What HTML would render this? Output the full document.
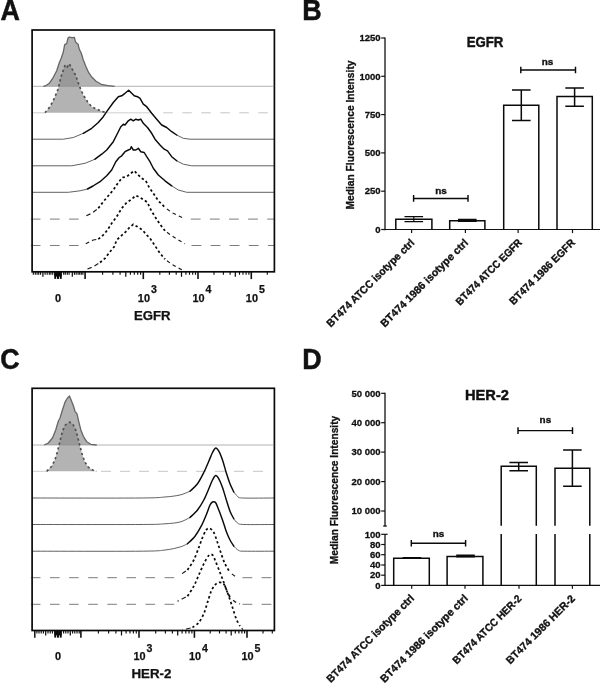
<!DOCTYPE html>
<html><head><meta charset="utf-8"><title>Figure</title>
<style>
html,body{margin:0;padding:0;background:#fff;}
svg{display:block;font-family:'Liberation Sans', sans-serif;}
</style></head><body>
<svg width="600" height="691" viewBox="0 0 600 691" style="filter:grayscale(1) blur(0.3px)">
<rect width="600" height="691" fill="#ffffff"/>
<text x="0.6" y="19.5" font-size="28.6" font-weight="bold" text-anchor="start" fill="#111" stroke="#111" stroke-width="0.50" textLength="19.4" lengthAdjust="spacingAndGlyphs" >A</text>
<text x="302.2" y="19.5" font-size="28.6" font-weight="bold" text-anchor="start" fill="#111" stroke="#111" stroke-width="0.50" textLength="19.4" lengthAdjust="spacingAndGlyphs" >B</text>
<text x="0.2" y="368.9" font-size="28.6" font-weight="bold" text-anchor="start" fill="#111" stroke="#111" stroke-width="0.50" textLength="19.4" lengthAdjust="spacingAndGlyphs" >C</text>
<text x="302.2" y="368.8" font-size="28.6" font-weight="bold" text-anchor="start" fill="#111" stroke="#111" stroke-width="0.50" textLength="19.4" lengthAdjust="spacingAndGlyphs" >D</text>
<line x1="32.1" y1="86.3" x2="272.9" y2="86.3" stroke="#a0a0a0" stroke-width="0.80" />
<line x1="32.1" y1="112.8" x2="45.0" y2="112.8" stroke="#c0c0c0" stroke-width="0.80" />
<line x1="163.3" y1="112.8" x2="272" y2="112.8" stroke="#c0c0c0" stroke-width="0.9" stroke-dasharray="9.5 9.5"/>
<line x1="107.0" y1="112.8" x2="152.0" y2="112.8" stroke="#c4c4c4" stroke-width="0.80" />
<path d="M43.3,86.3 L45.3,86.0 L49.3,83.3 L53.3,77.3 L56.7,70.7 L59.3,62.7 L61.3,58.0 L63.3,52.0 L64.7,44.7 L66.7,43.7 L68.0,38.0 L69.3,37.1 L72.0,37.6 L74.4,37.3 L75.3,41.3 L76.7,43.3 L78.0,44.0 L79.3,49.3 L81.3,53.3 L83.3,60.0 L86.0,66.7 L88.7,72.7 L92.0,77.3 L96.0,81.3 L101.3,84.3 L108.0,85.6 L114.7,86.3 Z" fill="#8c8c8c" fill-opacity="0.66" stroke="none"/>
<path d="M43.3,86.3 L45.3,86.0 L49.3,83.3 L53.3,77.3 L56.7,70.7 L59.3,62.7 L61.3,58.0 L63.3,52.0 L64.7,44.7 L66.7,43.7 L68.0,38.0 L69.3,37.1 L72.0,37.6 L74.4,37.3 L75.3,41.3 L76.7,43.3 L78.0,44.0 L79.3,49.3 L81.3,53.3 L83.3,60.0 L86.0,66.7 L88.7,72.7 L92.0,77.3 L96.0,81.3 L101.3,84.3 L108.0,85.6 L114.7,86.3" fill="none" stroke="#666" stroke-width="1.3" stroke-linejoin="round"/>
<path d="M45.0,112.7 L50.0,106.7 L54.0,99.0 L56.5,93.0 L58.0,89.3 L59.7,82.7 L60.7,77.3 L62.4,73.3 L64.0,68.0 L65.3,64.7 L67.3,66.9 L69.1,63.7 L71.3,67.3 L73.3,71.3 L75.3,74.7 L77.3,80.0 L78.9,84.7 L80.7,89.3 L83.3,95.0 L87.5,101.7 L91.7,106.7 L96.7,109.2 L101.7,111.3 L106.7,112.7 Z" fill="#8c8c8c" fill-opacity="0.66" stroke="none"/>
<path d="M45.0,112.7 L50.0,106.7 L54.0,99.0 L56.5,93.0 L58.0,89.3 L59.7,82.7 L60.7,77.3 L62.4,73.3 L64.0,68.0 L65.3,64.7 L67.3,66.9 L69.1,63.7 L71.3,67.3 L73.3,71.3 L75.3,74.7 L77.3,80.0 L78.9,84.7 L80.7,89.3 L83.3,95.0 L87.5,101.7 L91.7,106.7 L96.7,109.2 L101.7,111.3 L106.7,112.7" fill="none" stroke="#505050" stroke-width="1.7" stroke-dasharray="2.3 2.7"/>
<path d="M32.1,139.2 L63.3,139.2 L73.3,137.5 L83.3,133.3" fill="none" stroke="#444" stroke-width="0.85"/>
<path d="M176.7,135.0 L183.3,138.3 L190.0,139.2 L274.4,139.2" fill="none" stroke="#444" stroke-width="0.85"/>
<path d="M83.3,133.3 L91.7,128.3 L98.3,122.5 L103.3,116.7 L106.7,111.7 L113.3,102.5 L118.3,96.7 L121.7,95.8 L125.0,93.3 L128.7,90.3 L131.7,93.3 L134.2,95.8 L137.5,96.7 L140.0,98.3 L143.3,104.2 L146.7,106.7 L151.7,113.3 L156.7,119.2 L161.7,125.0 L166.7,127.5 L171.7,131.7 L176.7,135.0" fill="none" stroke="#0a0a0a" stroke-width="1.45" stroke-linejoin="round" stroke-linecap="round"/>
<path d="M32.1,165.8 L71.7,165.8 L85.0,163.3 L95.0,159.2" fill="none" stroke="#444" stroke-width="0.85"/>
<path d="M176.7,160.8 L183.3,164.2 L191.7,165.8 L274.4,165.8" fill="none" stroke="#444" stroke-width="0.85"/>
<path d="M95.0,159.2 L101.7,154.2 L106.7,150.0 L113.3,141.7 L116.7,135.0 L120.8,126.7 L123.3,124.2 L125.0,125.0 L128.3,120.8 L130.8,119.2 L133.3,120.8 L135.8,119.2 L138.3,120.0 L140.8,119.2 L143.3,123.3 L147.5,127.5 L151.7,133.3 L155.0,139.2 L160.0,145.0 L164.2,149.2 L167.5,150.8 L171.7,156.7 L176.7,160.8" fill="none" stroke="#0a0a0a" stroke-width="1.45" stroke-linejoin="round" stroke-linecap="round"/>
<path d="M32.1,192.3 L68.3,192.3 L80.0,190.8 L87.5,189.0" fill="none" stroke="#444" stroke-width="0.85"/>
<path d="M171.7,185.8 L178.3,190.0 L186.7,192.3 L274.4,192.3" fill="none" stroke="#444" stroke-width="0.85"/>
<path d="M87.5,189.0 L93.0,186.0 L100.0,181.7 L106.7,175.8 L111.7,170.0 L115.8,161.7 L119.2,157.5 L121.7,155.8 L125.0,151.7 L128.3,150.0 L130.3,149.2 L131.3,146.7 L133.3,150.0 L135.8,150.0 L138.3,148.3 L140.8,151.7 L144.2,152.5 L146.7,156.7 L150.0,161.7 L153.3,168.3 L158.3,175.0 L165.0,180.8 L171.7,185.8" fill="none" stroke="#0a0a0a" stroke-width="1.45" stroke-linejoin="round" stroke-linecap="round"/>
<line x1="30.9" y1="219.1" x2="79.0" y2="219.1" stroke="#7c7c7c" stroke-width="1" stroke-dasharray="9.6 9.5"/>
<line x1="190.8" y1="219.1" x2="274.4" y2="219.1" stroke="#7c7c7c" stroke-width="1" stroke-dasharray="9.8 9.3"/>
<path d="M98.3,208.3 L103.3,201.7 L108.3,195.8 L113.3,190.0 L118.3,182.5 L122.5,177.5 L126.7,176.7 L130.8,173.3 L134.2,170.8 L137.5,174.2 L141.7,178.3 L145.8,180.8 L149.2,187.5 L153.3,193.3 L158.3,200.8 L165.0,207.5" fill="none" stroke="#0a0a0a" stroke-width="1.75" stroke-dasharray="2.4 2.5"/>
<path d="M98.3,208.3 L91.7,213.3 L84.2,216.7" fill="none" stroke="#1a1a1a" stroke-width="1.15" stroke-dasharray="4.5 3.2" stroke-dashoffset="-2"/>
<path d="M165.0,207.5 L171.7,212.5 L178.3,215.8 L183.3,218.0" fill="none" stroke="#1a1a1a" stroke-width="1.15" stroke-dasharray="3.6 3.3" stroke-dashoffset="-2.5"/>
<line x1="30.9" y1="245.5" x2="79.0" y2="245.5" stroke="#7c7c7c" stroke-width="1" stroke-dasharray="9.6 9.5"/>
<line x1="191.5" y1="245.5" x2="274.4" y2="245.5" stroke="#7c7c7c" stroke-width="1" stroke-dasharray="9.8 9.3"/>
<path d="M98.3,239.2 L103.3,235.0 L107.5,230.0 L111.7,223.3 L116.7,216.7 L121.7,208.3 L126.7,202.5 L131.7,199.2 L135.8,195.5 L140.0,197.5 L144.2,200.0 L147.5,202.5 L150.0,208.3 L155.0,216.7 L160.0,224.2 L165.0,230.8" fill="none" stroke="#0a0a0a" stroke-width="1.75" stroke-dasharray="2.4 2.5"/>
<path d="M98.3,239.2 L93.3,240.0 L85.8,243.7" fill="none" stroke="#1a1a1a" stroke-width="1.15" stroke-dasharray="4.5 3.2" stroke-dashoffset="-2"/>
<path d="M165.0,230.8 L171.7,235.8 L178.3,240.0 L185.0,243.7" fill="none" stroke="#1a1a1a" stroke-width="1.15" stroke-dasharray="3.6 3.3" stroke-dashoffset="-2.5"/>
<path d="M100.0,262.5 L105.0,258.3 L110.0,251.7 L114.2,246.7 L116.7,240.0 L120.8,236.2 L125.8,231.7 L129.5,227.5 L133.3,224.4 L137.5,226.7 L142.5,230.0 L146.7,235.0 L150.0,238.3 L155.0,245.8 L160.0,253.3 L165.0,259.2" fill="none" stroke="#0a0a0a" stroke-width="1.75" stroke-dasharray="2.4 2.5"/>
<path d="M100.0,262.5 L93.3,266.7 L85.0,270.0" fill="none" stroke="#1a1a1a" stroke-width="1.15" stroke-dasharray="4.5 3.2" stroke-dashoffset="-2"/>
<path d="M165.0,259.2 L171.7,264.2 L178.3,268.0 L182.5,270.0" fill="none" stroke="#1a1a1a" stroke-width="1.15" stroke-dasharray="3.6 3.3" stroke-dashoffset="-2.5"/>
<line x1="33.3" y1="271.8" x2="33.3" y2="274.8" stroke="#111" stroke-width="1.15" />
<line x1="35.3" y1="271.8" x2="35.3" y2="274.8" stroke="#111" stroke-width="1.15" />
<line x1="37.1" y1="271.8" x2="37.1" y2="274.8" stroke="#111" stroke-width="1.15" />
<line x1="38.7" y1="271.8" x2="38.7" y2="274.8" stroke="#111" stroke-width="1.15" />
<line x1="40.6" y1="271.8" x2="40.6" y2="274.8" stroke="#111" stroke-width="1.15" />
<line x1="45.1" y1="271.8" x2="45.1" y2="274.8" stroke="#111" stroke-width="1.15" />
<line x1="47.2" y1="271.8" x2="47.2" y2="274.8" stroke="#111" stroke-width="1.15" />
<line x1="49.3" y1="271.8" x2="49.3" y2="274.8" stroke="#111" stroke-width="1.15" />
<line x1="50.9" y1="271.8" x2="50.9" y2="274.8" stroke="#111" stroke-width="1.15" />
<line x1="52.7" y1="271.8" x2="52.7" y2="274.8" stroke="#111" stroke-width="1.15" />
<line x1="63.7" y1="271.8" x2="63.7" y2="274.8" stroke="#111" stroke-width="1.15" />
<line x1="65.3" y1="271.8" x2="65.3" y2="274.8" stroke="#111" stroke-width="1.15" />
<line x1="67.3" y1="271.8" x2="67.3" y2="274.8" stroke="#111" stroke-width="1.15" />
<line x1="69.1" y1="271.8" x2="69.1" y2="274.8" stroke="#111" stroke-width="1.15" />
<line x1="74.4" y1="271.8" x2="74.4" y2="274.8" stroke="#111" stroke-width="1.15" />
<line x1="76.2" y1="271.8" x2="76.2" y2="274.8" stroke="#111" stroke-width="1.15" />
<line x1="78.1" y1="271.8" x2="78.1" y2="274.8" stroke="#111" stroke-width="1.15" />
<line x1="79.7" y1="271.8" x2="79.7" y2="274.8" stroke="#111" stroke-width="1.15" />
<line x1="81.3" y1="271.8" x2="81.3" y2="274.8" stroke="#111" stroke-width="1.15" />
<line x1="82.9" y1="271.8" x2="82.9" y2="274.8" stroke="#111" stroke-width="1.15" />
<line x1="42.9" y1="271.8" x2="42.9" y2="276.8" stroke="#111" stroke-width="1.25" />
<line x1="72.3" y1="271.8" x2="72.3" y2="276.8" stroke="#111" stroke-width="1.25" />
<rect x="54.3" y="271.8" width="7.4" height="4.8" fill="#0a0a0a"/>
<rect x="54.3" y="271.8" width="1.7" height="7.1" fill="#0a0a0a"/>
<rect x="56.8" y="271.8" width="2.2" height="7.1" fill="#0a0a0a"/>
<rect x="59.8" y="271.8" width="1.9" height="7.1" fill="#0a0a0a"/>
<line x1="85.1" y1="271.8" x2="85.1" y2="279.1" stroke="#111" stroke-width="1.60" />
<line x1="102.6" y1="271.8" x2="102.6" y2="274.8" stroke="#111" stroke-width="1.15" />
<line x1="112.9" y1="271.8" x2="112.9" y2="274.8" stroke="#111" stroke-width="1.15" />
<line x1="120.1" y1="271.8" x2="120.1" y2="274.8" stroke="#111" stroke-width="1.15" />
<line x1="125.8" y1="271.8" x2="125.8" y2="276.8" stroke="#111" stroke-width="1.25" />
<line x1="130.4" y1="271.8" x2="130.4" y2="274.8" stroke="#111" stroke-width="1.15" />
<line x1="134.3" y1="271.8" x2="134.3" y2="274.8" stroke="#111" stroke-width="1.15" />
<line x1="137.7" y1="271.8" x2="137.7" y2="274.8" stroke="#111" stroke-width="1.15" />
<line x1="140.6" y1="271.8" x2="140.6" y2="274.8" stroke="#111" stroke-width="1.15" />
<line x1="143.3" y1="271.8" x2="143.3" y2="279.1" stroke="#111" stroke-width="1.60" />
<line x1="159.8" y1="271.8" x2="159.8" y2="274.8" stroke="#111" stroke-width="1.15" />
<line x1="169.4" y1="271.8" x2="169.4" y2="274.8" stroke="#111" stroke-width="1.15" />
<line x1="176.2" y1="271.8" x2="176.2" y2="274.8" stroke="#111" stroke-width="1.15" />
<line x1="181.5" y1="271.8" x2="181.5" y2="276.8" stroke="#111" stroke-width="1.25" />
<line x1="185.9" y1="271.8" x2="185.9" y2="274.8" stroke="#111" stroke-width="1.15" />
<line x1="189.5" y1="271.8" x2="189.5" y2="274.8" stroke="#111" stroke-width="1.15" />
<line x1="192.7" y1="271.8" x2="192.7" y2="274.8" stroke="#111" stroke-width="1.15" />
<line x1="195.5" y1="271.8" x2="195.5" y2="274.8" stroke="#111" stroke-width="1.15" />
<line x1="198.0" y1="271.8" x2="198.0" y2="279.1" stroke="#111" stroke-width="1.60" />
<line x1="214.0" y1="271.8" x2="214.0" y2="274.8" stroke="#111" stroke-width="1.15" />
<line x1="223.4" y1="271.8" x2="223.4" y2="274.8" stroke="#111" stroke-width="1.15" />
<line x1="230.1" y1="271.8" x2="230.1" y2="274.8" stroke="#111" stroke-width="1.15" />
<line x1="235.3" y1="271.8" x2="235.3" y2="276.8" stroke="#111" stroke-width="1.25" />
<line x1="239.5" y1="271.8" x2="239.5" y2="274.8" stroke="#111" stroke-width="1.15" />
<line x1="243.0" y1="271.8" x2="243.0" y2="274.8" stroke="#111" stroke-width="1.15" />
<line x1="246.1" y1="271.8" x2="246.1" y2="274.8" stroke="#111" stroke-width="1.15" />
<line x1="248.9" y1="271.8" x2="248.9" y2="274.8" stroke="#111" stroke-width="1.15" />
<line x1="251.3" y1="271.8" x2="251.3" y2="279.1" stroke="#111" stroke-width="1.60" />
<line x1="267.3" y1="271.8" x2="267.3" y2="274.8" stroke="#111" stroke-width="1.15" />
<rect x="32.1" y="30.0" width="242.3" height="241.8" fill="none" stroke="#0a0a0a" stroke-width="1.7"/>
<text x="58.0" y="301.8" font-size="10.9" font-weight="bold" text-anchor="middle" fill="#111" stroke="#111" stroke-width="0.25" >0</text>
<text x="143.9" y="301.8" font-size="10.9" font-weight="bold" text-anchor="middle" fill="#111" stroke="#111" stroke-width="0.25" >10</text>
<text x="150.9" y="293.1" font-size="10.6" font-weight="bold" text-anchor="start" fill="#111" stroke="#111" stroke-width="0.25" >3</text>
<text x="198.6" y="301.8" font-size="10.9" font-weight="bold" text-anchor="middle" fill="#111" stroke="#111" stroke-width="0.25" >10</text>
<text x="205.6" y="293.1" font-size="10.6" font-weight="bold" text-anchor="start" fill="#111" stroke="#111" stroke-width="0.25" >4</text>
<text x="251.9" y="301.8" font-size="10.9" font-weight="bold" text-anchor="middle" fill="#111" stroke="#111" stroke-width="0.25" >10</text>
<text x="258.9" y="293.1" font-size="10.6" font-weight="bold" text-anchor="start" fill="#111" stroke="#111" stroke-width="0.25" >5</text>
<text x="152.2" y="319.6" font-size="12.0" font-weight="bold" text-anchor="middle" fill="#111" stroke="#111" stroke-width="0.25" textLength="36.6" lengthAdjust="spacingAndGlyphs" >EGFR</text>
<line x1="32.1" y1="445.0" x2="272.9" y2="445.0" stroke="#a0a0a0" stroke-width="0.80" />
<line x1="32.1" y1="471.3" x2="47.0" y2="471.3" stroke="#c0c0c0" stroke-width="0.80" />
<line x1="101" y1="471.3" x2="272" y2="471.3" stroke="#c0c0c0" stroke-width="0.9" stroke-dasharray="10 9"/>
<path d="M44.2,445.0 L48.3,443.0 L52.5,438.0 L55.8,429.7 L58.3,421.3 L60.0,418.0 L62.5,409.7 L65.0,402.2 L67.5,398.0 L69.5,396.0 L71.3,400.5 L73.3,405.5 L75.0,411.3 L77.0,413.8 L78.7,421.3 L80.8,429.7 L83.3,436.3 L86.7,441.7 L90.8,444.3 L96.7,445.0 Z" fill="#8c8c8c" fill-opacity="0.66" stroke="none"/>
<path d="M44.2,445.0 L48.3,443.0 L52.5,438.0 L55.8,429.7 L58.3,421.3 L60.0,418.0 L62.5,409.7 L65.0,402.2 L67.5,398.0 L69.5,396.0 L71.3,400.5 L73.3,405.5 L75.0,411.3 L77.0,413.8 L78.7,421.3 L80.8,429.7 L83.3,436.3 L86.7,441.7 L90.8,444.3 L96.7,445.0" fill="none" stroke="#666" stroke-width="1.3" stroke-linejoin="round"/>
<path d="M46.7,471.3 L51.7,466.3 L55.0,459.7 L57.5,451.3 L60.0,441.3 L62.5,431.3 L65.0,425.5 L67.5,423.0 L70.0,422.2 L72.5,423.8 L75.0,428.0 L77.5,436.3 L80.0,446.3 L82.5,455.5 L85.0,462.2 L88.3,467.2 L92.5,470.0 L96.7,471.3 Z" fill="#8c8c8c" fill-opacity="0.66" stroke="none"/>
<path d="M46.7,471.3 L51.7,466.3 L55.0,459.7 L57.5,451.3 L60.0,441.3 L62.5,431.3 L65.0,425.5 L67.5,423.0 L70.0,422.2 L72.5,423.8 L75.0,428.0 L77.5,436.3 L80.0,446.3 L82.5,455.5 L85.0,462.2 L88.3,467.2 L92.5,470.0 L96.7,471.3" fill="none" stroke="#505050" stroke-width="1.7" stroke-dasharray="2.3 2.7"/>
<path d="M32.1,498.0 C49.4,498.0 118.7,498.2 140.0,498.0 C161.3,497.8 158.6,497.5 165.0,497.0 C171.4,496.5 176.0,495.9 180.0,495.0 C184.0,494.1 188.4,491.8 190.0,491.2" fill="none" stroke="#444" stroke-width="0.85"/>
<path d="M233.8,492.0 C234.4,492.7 236.1,495.2 237.5,496.2 C238.9,497.2 236.6,497.7 242.5,498.0 C248.4,498.3 269.3,498.0 274.4,498.0" fill="none" stroke="#444" stroke-width="0.85"/>
<path d="M190.0,491.2 C191.2,490.0 195.3,486.8 197.5,483.8 C199.7,480.8 202.0,476.1 203.8,472.5 C205.6,468.9 207.4,464.4 208.8,461.2 C210.2,458.0 211.4,454.6 212.5,452.5 C213.6,450.4 214.8,448.2 215.8,448.0 C216.8,447.8 217.7,449.3 218.8,451.2 C219.9,453.1 221.3,456.6 222.5,460.0 C223.7,463.4 225.0,468.7 226.2,472.5 C227.4,476.3 228.8,480.7 230.0,483.8 C231.2,486.9 233.2,490.7 233.8,492.0" fill="none" stroke="#0a0a0a" stroke-width="1.45" stroke-linejoin="round" stroke-linecap="round"/>
<path d="M32.1,524.5 C49.4,524.5 118.7,524.6 140.0,524.5 C161.3,524.4 158.6,524.2 165.0,523.8 C171.4,523.4 176.0,523.0 180.0,522.0 C184.0,521.0 188.4,518.2 190.0,517.5" fill="none" stroke="#444" stroke-width="0.85"/>
<path d="M233.8,518.8 C234.4,519.5 235.9,522.1 237.5,523.0 C239.1,523.9 237.9,524.3 243.8,524.5 C249.7,524.7 269.5,524.5 274.4,524.5" fill="none" stroke="#444" stroke-width="0.85"/>
<path d="M190.0,517.5 C191.2,516.3 195.3,512.8 197.5,510.0 C199.7,507.2 202.0,503.4 203.8,500.0 C205.6,496.6 207.4,492.0 208.8,488.8 C210.2,485.6 211.4,482.1 212.5,480.0 C213.6,477.9 214.8,475.7 215.8,475.5 C216.8,475.3 217.7,476.9 218.8,478.8 C219.9,480.7 221.3,484.2 222.5,487.5 C223.7,490.8 225.0,495.7 226.2,499.5 C227.4,503.3 228.8,508.1 230.0,511.2 C231.2,514.3 233.2,517.6 233.8,518.8" fill="none" stroke="#0a0a0a" stroke-width="1.45" stroke-linejoin="round" stroke-linecap="round"/>
<path d="M32.1,551.2 C49.4,551.2 118.7,551.4 140.0,551.2 C161.3,551.0 158.6,550.7 165.0,550.0 C171.4,549.3 176.4,548.0 180.0,547.0 C183.6,546.0 186.3,544.3 187.5,543.8" fill="none" stroke="#444" stroke-width="0.85"/>
<path d="M233.8,546.2 C234.6,546.9 237.0,549.7 238.8,550.5 C240.6,551.3 239.3,551.1 245.0,551.2 C250.7,551.3 269.7,551.2 274.4,551.2" fill="none" stroke="#444" stroke-width="0.85"/>
<path d="M187.5,543.8 C188.7,542.6 192.8,539.0 195.0,536.2 C197.2,533.4 199.4,529.6 201.2,526.2 C203.0,522.8 204.8,518.4 206.2,515.0 C207.6,511.6 209.0,507.1 210.0,505.0 C211.0,502.9 211.6,502.4 212.5,502.0 C213.4,501.6 214.5,501.2 215.5,502.5 C216.5,503.8 217.7,507.2 218.8,510.0 C219.9,512.8 221.3,516.6 222.5,520.0 C223.7,523.4 225.0,528.0 226.2,531.2 C227.4,534.4 228.8,537.6 230.0,540.0 C231.2,542.4 233.2,545.2 233.8,546.2" fill="none" stroke="#0a0a0a" stroke-width="1.45" stroke-linejoin="round" stroke-linecap="round"/>
<line x1="30.9" y1="577.7" x2="176.0" y2="577.7" stroke="#7c7c7c" stroke-width="1" stroke-dasharray="9.6 9.5"/>
<line x1="242.5" y1="577.7" x2="274.4" y2="577.7" stroke="#7c7c7c" stroke-width="1" stroke-dasharray="9.8 9.3"/>
<path d="M187.5,570.0 C188.5,568.4 192.0,563.6 193.8,560.0 C195.6,556.4 197.4,551.1 198.8,547.5 C200.2,543.9 201.3,540.3 202.5,537.5 C203.7,534.7 205.1,531.5 206.2,530.0 C207.3,528.5 208.3,527.8 209.5,528.2 C210.7,528.6 212.5,530.2 213.8,532.5 C215.1,534.8 216.3,539.1 217.5,542.5 C218.7,545.9 220.0,550.4 221.2,553.8 C222.4,557.2 223.6,560.8 225.0,563.8 C226.4,566.8 229.2,571.1 230.0,572.5" fill="none" stroke="#0a0a0a" stroke-width="1.75" stroke-dasharray="2.4 2.5"/>
<path d="M187.5,570.0 C186.3,570.8 181.2,574.2 180.0,575.0" fill="none" stroke="#1a1a1a" stroke-width="1.15" stroke-dasharray="4.5 3.2" stroke-dashoffset="-2"/>
<path d="M230.0,572.5 C230.8,573.1 234.2,575.6 235.0,576.2" fill="none" stroke="#1a1a1a" stroke-width="1.15" stroke-dasharray="3.6 3.3" stroke-dashoffset="-2.5"/>
<line x1="30.9" y1="604.3" x2="176.0" y2="604.3" stroke="#7c7c7c" stroke-width="1" stroke-dasharray="9.6 9.5"/>
<line x1="242.5" y1="604.3" x2="274.4" y2="604.3" stroke="#7c7c7c" stroke-width="1" stroke-dasharray="9.8 9.3"/>
<path d="M187.5,596.2 C188.5,594.6 192.0,589.6 193.8,586.2 C195.6,582.8 197.2,578.6 198.8,575.0 C200.4,571.4 202.2,566.9 203.8,563.8 C205.4,560.7 207.4,556.9 208.8,555.5 C210.2,554.1 211.4,554.1 212.5,555.0 C213.6,555.9 214.3,558.4 215.5,561.2 C216.7,564.0 218.7,569.1 220.0,572.5 C221.3,575.9 222.6,579.3 223.8,582.5 C225.0,585.7 226.3,589.9 227.5,592.5 C228.7,595.1 230.6,597.8 231.2,598.8" fill="none" stroke="#0a0a0a" stroke-width="1.75" stroke-dasharray="2.4 2.5"/>
<path d="M187.5,596.2 C185.9,597.0 179.1,600.4 177.5,601.2" fill="none" stroke="#1a1a1a" stroke-width="1.15" stroke-dasharray="4.5 3.2" stroke-dashoffset="-2"/>
<path d="M231.2,598.8 C232.0,599.4 234.8,601.7 236.2,602.5 C237.6,603.3 239.4,603.8 240.0,604.0" fill="none" stroke="#1a1a1a" stroke-width="1.15" stroke-dasharray="3.6 3.3" stroke-dashoffset="-2.5"/>
<path d="M192.5,627.5 C193.5,626.7 197.0,624.7 198.8,622.5 C200.6,620.3 202.4,617.0 203.8,613.8 C205.2,610.6 206.3,606.1 207.5,602.5 C208.7,598.9 210.0,594.0 211.2,591.2 C212.4,588.4 213.8,586.4 215.0,585.0 C216.2,583.6 217.6,582.8 218.8,582.5 C220.0,582.2 221.5,582.4 222.5,583.0 C223.5,583.6 224.0,584.1 225.0,586.2 C226.0,588.3 227.6,592.8 228.8,596.2 C230.0,599.6 231.3,603.9 232.5,607.5 C233.7,611.1 235.0,615.8 236.2,618.8 C237.4,621.8 239.4,625.0 240.0,626.2" fill="none" stroke="#0a0a0a" stroke-width="1.75" stroke-dasharray="2.4 2.5"/>
<path d="M192.5,627.5 C190.9,627.9 184.1,629.6 182.5,630.0" fill="none" stroke="#1a1a1a" stroke-width="1.15" stroke-dasharray="4.5 3.2" stroke-dashoffset="-2"/>
<path d="M240.0,626.2 C240.5,626.7 242.5,629.0 243.0,629.5" fill="none" stroke="#1a1a1a" stroke-width="1.15" stroke-dasharray="3.6 3.3" stroke-dashoffset="-2.5"/>
<line x1="36.9" y1="630.5" x2="36.9" y2="633.5" stroke="#111" stroke-width="1.15" />
<line x1="39.0" y1="630.5" x2="39.0" y2="633.5" stroke="#111" stroke-width="1.15" />
<line x1="41.2" y1="630.5" x2="41.2" y2="633.5" stroke="#111" stroke-width="1.15" />
<line x1="43.4" y1="630.5" x2="43.4" y2="633.5" stroke="#111" stroke-width="1.15" />
<line x1="48.0" y1="630.5" x2="48.0" y2="633.5" stroke="#111" stroke-width="1.15" />
<line x1="50.2" y1="630.5" x2="50.2" y2="633.5" stroke="#111" stroke-width="1.15" />
<line x1="52.4" y1="630.5" x2="52.4" y2="633.5" stroke="#111" stroke-width="1.15" />
<line x1="63.6" y1="630.5" x2="63.6" y2="633.5" stroke="#111" stroke-width="1.15" />
<line x1="65.8" y1="630.5" x2="65.8" y2="633.5" stroke="#111" stroke-width="1.15" />
<line x1="68.0" y1="630.5" x2="68.0" y2="633.5" stroke="#111" stroke-width="1.15" />
<line x1="72.6" y1="630.5" x2="72.6" y2="633.5" stroke="#111" stroke-width="1.15" />
<line x1="74.8" y1="630.5" x2="74.8" y2="633.5" stroke="#111" stroke-width="1.15" />
<line x1="77.0" y1="630.5" x2="77.0" y2="633.5" stroke="#111" stroke-width="1.15" />
<line x1="79.2" y1="630.5" x2="79.2" y2="633.5" stroke="#111" stroke-width="1.15" />
<line x1="45.7" y1="630.5" x2="45.7" y2="635.5" stroke="#111" stroke-width="1.25" />
<line x1="70.3" y1="630.5" x2="70.3" y2="635.5" stroke="#111" stroke-width="1.25" />
<line x1="34.8" y1="630.5" x2="34.8" y2="637.8" stroke="#111" stroke-width="1.50" />
<rect x="54.3" y="630.5" width="7.4" height="4.8" fill="#0a0a0a"/>
<rect x="54.3" y="630.5" width="1.7" height="7.1" fill="#0a0a0a"/>
<rect x="56.8" y="630.5" width="2.2" height="7.1" fill="#0a0a0a"/>
<rect x="59.8" y="630.5" width="1.9" height="7.1" fill="#0a0a0a"/>
<line x1="80.9" y1="630.5" x2="80.9" y2="637.8" stroke="#111" stroke-width="1.60" />
<line x1="98.4" y1="630.5" x2="98.4" y2="633.5" stroke="#111" stroke-width="1.15" />
<line x1="108.6" y1="630.5" x2="108.6" y2="633.5" stroke="#111" stroke-width="1.15" />
<line x1="115.9" y1="630.5" x2="115.9" y2="633.5" stroke="#111" stroke-width="1.15" />
<line x1="121.5" y1="630.5" x2="121.5" y2="635.5" stroke="#111" stroke-width="1.25" />
<line x1="126.1" y1="630.5" x2="126.1" y2="633.5" stroke="#111" stroke-width="1.15" />
<line x1="130.0" y1="630.5" x2="130.0" y2="633.5" stroke="#111" stroke-width="1.15" />
<line x1="133.4" y1="630.5" x2="133.4" y2="633.5" stroke="#111" stroke-width="1.15" />
<line x1="136.3" y1="630.5" x2="136.3" y2="633.5" stroke="#111" stroke-width="1.15" />
<line x1="139.0" y1="630.5" x2="139.0" y2="637.8" stroke="#111" stroke-width="1.60" />
<line x1="155.7" y1="630.5" x2="155.7" y2="633.5" stroke="#111" stroke-width="1.15" />
<line x1="165.4" y1="630.5" x2="165.4" y2="633.5" stroke="#111" stroke-width="1.15" />
<line x1="172.4" y1="630.5" x2="172.4" y2="633.5" stroke="#111" stroke-width="1.15" />
<line x1="177.7" y1="630.5" x2="177.7" y2="635.5" stroke="#111" stroke-width="1.25" />
<line x1="182.1" y1="630.5" x2="182.1" y2="633.5" stroke="#111" stroke-width="1.15" />
<line x1="185.8" y1="630.5" x2="185.8" y2="633.5" stroke="#111" stroke-width="1.15" />
<line x1="189.0" y1="630.5" x2="189.0" y2="633.5" stroke="#111" stroke-width="1.15" />
<line x1="191.9" y1="630.5" x2="191.9" y2="633.5" stroke="#111" stroke-width="1.15" />
<line x1="194.4" y1="630.5" x2="194.4" y2="637.8" stroke="#111" stroke-width="1.60" />
<line x1="210.2" y1="630.5" x2="210.2" y2="633.5" stroke="#111" stroke-width="1.15" />
<line x1="219.5" y1="630.5" x2="219.5" y2="633.5" stroke="#111" stroke-width="1.15" />
<line x1="226.1" y1="630.5" x2="226.1" y2="633.5" stroke="#111" stroke-width="1.15" />
<line x1="231.2" y1="630.5" x2="231.2" y2="635.5" stroke="#111" stroke-width="1.25" />
<line x1="235.3" y1="630.5" x2="235.3" y2="633.5" stroke="#111" stroke-width="1.15" />
<line x1="238.9" y1="630.5" x2="238.9" y2="633.5" stroke="#111" stroke-width="1.15" />
<line x1="241.9" y1="630.5" x2="241.9" y2="633.5" stroke="#111" stroke-width="1.15" />
<line x1="244.6" y1="630.5" x2="244.6" y2="633.5" stroke="#111" stroke-width="1.15" />
<line x1="247.0" y1="630.5" x2="247.0" y2="637.8" stroke="#111" stroke-width="1.60" />
<line x1="263.0" y1="630.5" x2="263.0" y2="633.5" stroke="#111" stroke-width="1.15" />
<line x1="272.3" y1="630.5" x2="272.3" y2="633.5" stroke="#111" stroke-width="1.15" />
<rect x="32.1" y="388.3" width="242.3" height="242.2" fill="none" stroke="#0a0a0a" stroke-width="1.7"/>
<text x="58.0" y="660.3" font-size="10.9" font-weight="bold" text-anchor="middle" fill="#111" stroke="#111" stroke-width="0.25" >0</text>
<text x="139.6" y="660.3" font-size="10.9" font-weight="bold" text-anchor="middle" fill="#111" stroke="#111" stroke-width="0.25" >10</text>
<text x="146.6" y="651.6" font-size="10.6" font-weight="bold" text-anchor="start" fill="#111" stroke="#111" stroke-width="0.25" >3</text>
<text x="195.0" y="660.3" font-size="10.9" font-weight="bold" text-anchor="middle" fill="#111" stroke="#111" stroke-width="0.25" >10</text>
<text x="202.0" y="651.6" font-size="10.6" font-weight="bold" text-anchor="start" fill="#111" stroke="#111" stroke-width="0.25" >4</text>
<text x="247.6" y="660.3" font-size="10.9" font-weight="bold" text-anchor="middle" fill="#111" stroke="#111" stroke-width="0.25" >10</text>
<text x="254.6" y="651.6" font-size="10.6" font-weight="bold" text-anchor="start" fill="#111" stroke="#111" stroke-width="0.25" >5</text>
<text x="151.4" y="678.4" font-size="12.0" font-weight="bold" text-anchor="middle" fill="#111" stroke="#111" stroke-width="0.25" textLength="40.0" lengthAdjust="spacingAndGlyphs" >HER-2</text>
<line x1="385.0" y1="37.4" x2="385.0" y2="230.2" stroke="#111" stroke-width="1.30" />
<line x1="384.4" y1="229.5" x2="600.0" y2="229.5" stroke="#111" stroke-width="1.20" />
<line x1="381.2" y1="229.5" x2="385.0" y2="229.5" stroke="#111" stroke-width="1.20" />
<text x="380.6" y="232.8" font-size="9.9" font-weight="bold" text-anchor="end" fill="#111" stroke="#111" stroke-width="0.30" textLength="5.3" lengthAdjust="spacingAndGlyphs" >0</text>
<line x1="381.2" y1="191.2" x2="385.0" y2="191.2" stroke="#111" stroke-width="1.20" />
<text x="380.6" y="194.4" font-size="9.9" font-weight="bold" text-anchor="end" fill="#111" stroke="#111" stroke-width="0.30" textLength="15.9" lengthAdjust="spacingAndGlyphs" >250</text>
<line x1="381.2" y1="152.9" x2="385.0" y2="152.9" stroke="#111" stroke-width="1.20" />
<text x="380.6" y="156.2" font-size="9.9" font-weight="bold" text-anchor="end" fill="#111" stroke="#111" stroke-width="0.30" textLength="15.9" lengthAdjust="spacingAndGlyphs" >500</text>
<line x1="381.2" y1="114.6" x2="385.0" y2="114.6" stroke="#111" stroke-width="1.20" />
<text x="380.6" y="117.9" font-size="9.9" font-weight="bold" text-anchor="end" fill="#111" stroke="#111" stroke-width="0.30" textLength="15.9" lengthAdjust="spacingAndGlyphs" >750</text>
<line x1="381.2" y1="76.3" x2="385.0" y2="76.3" stroke="#111" stroke-width="1.20" />
<text x="380.6" y="79.6" font-size="9.9" font-weight="bold" text-anchor="end" fill="#111" stroke="#111" stroke-width="0.30" textLength="21.2" lengthAdjust="spacingAndGlyphs" >1000</text>
<line x1="381.2" y1="38.0" x2="385.0" y2="38.0" stroke="#111" stroke-width="1.20" />
<text x="380.6" y="41.2" font-size="9.9" font-weight="bold" text-anchor="end" fill="#111" stroke="#111" stroke-width="0.30" textLength="21.2" lengthAdjust="spacingAndGlyphs" >1250</text>
<text x="354.0" y="135.0" font-size="10.2" font-weight="bold" text-anchor="middle" fill="#111" stroke="#111" stroke-width="0.30" textLength="149.0" lengthAdjust="spacingAndGlyphs" transform="rotate(-90 354.0 135.0)" >Median Fluorescence Intensity</text>
<text x="485.0" y="46.7" font-size="14.9" font-weight="bold" text-anchor="middle" fill="#111" stroke="#111" stroke-width="0.45" textLength="36.7" lengthAdjust="spacingAndGlyphs" >EGFR</text>
<path d="M395.8,229.5 L395.8,219.3 L431.9,219.3 L431.9,229.5" fill="none" stroke="#0a0a0a" stroke-width="1.50"/>
<path d="M449.7,229.5 L449.7,220.7 L484.9,220.7 L484.9,229.5" fill="none" stroke="#0a0a0a" stroke-width="1.50"/>
<path d="M503.7,229.5 L503.7,105.2 L538.8,105.2 L538.8,229.5" fill="none" stroke="#0a0a0a" stroke-width="1.50"/>
<path d="M557.0,229.5 L557.0,96.5 L592.3,96.5 L592.3,229.5" fill="none" stroke="#0a0a0a" stroke-width="1.50"/>
<path d="M413.8,216.6 L413.8,221.6 M404.5,216.6 L423.1,216.6 M404.5,221.6 L423.1,221.6" fill="none" stroke="#0a0a0a" stroke-width="1.15"/>
<path d="M467.3,219.6 L467.3,221.3 M458.0,219.6 L476.6,219.6 M458.0,221.3 L476.6,221.3" fill="none" stroke="#0a0a0a" stroke-width="1.50"/>
<path d="M521.3,90.0 L521.3,120.5 M512.0,90.0 L530.6,90.0 M512.0,120.5 L530.6,120.5" fill="none" stroke="#0a0a0a" stroke-width="1.50"/>
<path d="M574.6,88.0 L574.6,106.3 M565.3,88.0 L583.9,88.0 M565.3,106.3 L583.9,106.3" fill="none" stroke="#0a0a0a" stroke-width="1.50"/>
<path d="M413.6,198.4 L468.0,198.4 M413.6,195.1 L413.6,201.7 M468.0,195.1 L468.0,201.7" fill="none" stroke="#0a0a0a" stroke-width="1.45"/>
<path d="M520.8,70.0 L575.5,70.0 M520.8,66.7 L520.8,73.3 M575.5,66.7 L575.5,73.3" fill="none" stroke="#0a0a0a" stroke-width="1.45"/>
<text x="441.0" y="194.4" font-size="9.9" font-weight="bold" text-anchor="middle" fill="#111" stroke="#111" stroke-width="0.35" textLength="11.6" lengthAdjust="spacingAndGlyphs" >ns</text>
<text x="547.5" y="65.0" font-size="9.9" font-weight="bold" text-anchor="middle" fill="#111" stroke="#111" stroke-width="0.35" textLength="11.6" lengthAdjust="spacingAndGlyphs" >ns</text>
<line x1="411.6" y1="229.5" x2="411.6" y2="233.1" stroke="#111" stroke-width="1.20" />
<line x1="465.4" y1="229.5" x2="465.4" y2="233.1" stroke="#111" stroke-width="1.20" />
<line x1="518.1" y1="229.5" x2="518.1" y2="233.1" stroke="#111" stroke-width="1.20" />
<line x1="572.5" y1="229.5" x2="572.5" y2="233.1" stroke="#111" stroke-width="1.20" />
<text x="415.0" y="243.5" font-size="10.6" font-weight="bold" text-anchor="end" fill="#111" stroke="#111" stroke-width="0.35" textLength="119.0" lengthAdjust="spacingAndGlyphs" transform="rotate(-45 415.0 243.5)" >BT474 ATCC isotype ctrl</text>
<text x="468.8" y="243.5" font-size="10.6" font-weight="bold" text-anchor="end" fill="#111" stroke="#111" stroke-width="0.35" textLength="119.0" lengthAdjust="spacingAndGlyphs" transform="rotate(-45 468.8 243.5)" >BT474 1986 isotype ctrl</text>
<text x="522.6" y="243.3" font-size="10.6" font-weight="bold" text-anchor="end" fill="#111" stroke="#111" stroke-width="0.35" textLength="88.5" lengthAdjust="spacingAndGlyphs" transform="rotate(-45 522.6 243.3)" >BT474 ATCC EGFR</text>
<text x="575.8" y="243.3" font-size="10.6" font-weight="bold" text-anchor="end" fill="#111" stroke="#111" stroke-width="0.35" textLength="88.0" lengthAdjust="spacingAndGlyphs" transform="rotate(-45 575.8 243.3)" >BT474 1986 EGFR</text>
<line x1="385.0" y1="392.7" x2="385.0" y2="526.3" stroke="#111" stroke-width="1.30" />
<line x1="383.2" y1="526.0" x2="386.8" y2="526.0" stroke="#111" stroke-width="1.30" />
<line x1="385.0" y1="534.3" x2="387.6" y2="534.3" stroke="#111" stroke-width="1.20" />
<line x1="385.0" y1="534.3" x2="385.0" y2="586.0" stroke="#111" stroke-width="1.30" />
<line x1="384.4" y1="585.4" x2="600.0" y2="585.4" stroke="#111" stroke-width="1.20" />
<line x1="381.2" y1="511.0" x2="385.0" y2="511.0" stroke="#111" stroke-width="1.20" />
<text x="380.6" y="514.2" font-size="9.9" font-weight="bold" text-anchor="end" fill="#111" stroke="#111" stroke-width="0.30" textLength="29.2" lengthAdjust="spacingAndGlyphs" >10 000</text>
<line x1="381.2" y1="481.6" x2="385.0" y2="481.6" stroke="#111" stroke-width="1.20" />
<text x="380.6" y="484.8" font-size="9.9" font-weight="bold" text-anchor="end" fill="#111" stroke="#111" stroke-width="0.30" textLength="29.2" lengthAdjust="spacingAndGlyphs" >20 000</text>
<line x1="381.2" y1="452.1" x2="385.0" y2="452.1" stroke="#111" stroke-width="1.20" />
<text x="380.6" y="455.4" font-size="9.9" font-weight="bold" text-anchor="end" fill="#111" stroke="#111" stroke-width="0.30" textLength="29.2" lengthAdjust="spacingAndGlyphs" >30 000</text>
<line x1="381.2" y1="422.7" x2="385.0" y2="422.7" stroke="#111" stroke-width="1.20" />
<text x="380.6" y="426.0" font-size="9.9" font-weight="bold" text-anchor="end" fill="#111" stroke="#111" stroke-width="0.30" textLength="29.2" lengthAdjust="spacingAndGlyphs" >40 000</text>
<line x1="381.2" y1="393.3" x2="385.0" y2="393.3" stroke="#111" stroke-width="1.20" />
<text x="380.6" y="396.5" font-size="9.9" font-weight="bold" text-anchor="end" fill="#111" stroke="#111" stroke-width="0.30" textLength="29.2" lengthAdjust="spacingAndGlyphs" >50 000</text>
<line x1="381.2" y1="585.4" x2="385.0" y2="585.4" stroke="#111" stroke-width="1.20" />
<text x="380.6" y="588.6" font-size="9.9" font-weight="bold" text-anchor="end" fill="#111" stroke="#111" stroke-width="0.30" textLength="5.3" lengthAdjust="spacingAndGlyphs" >0</text>
<line x1="381.2" y1="575.2" x2="385.0" y2="575.2" stroke="#111" stroke-width="1.20" />
<text x="380.6" y="578.4" font-size="9.9" font-weight="bold" text-anchor="end" fill="#111" stroke="#111" stroke-width="0.30" textLength="10.6" lengthAdjust="spacingAndGlyphs" >20</text>
<line x1="381.2" y1="565.0" x2="385.0" y2="565.0" stroke="#111" stroke-width="1.20" />
<text x="380.6" y="568.2" font-size="9.9" font-weight="bold" text-anchor="end" fill="#111" stroke="#111" stroke-width="0.30" textLength="10.6" lengthAdjust="spacingAndGlyphs" >40</text>
<line x1="381.2" y1="554.7" x2="385.0" y2="554.7" stroke="#111" stroke-width="1.20" />
<text x="380.6" y="558.0" font-size="9.9" font-weight="bold" text-anchor="end" fill="#111" stroke="#111" stroke-width="0.30" textLength="10.6" lengthAdjust="spacingAndGlyphs" >60</text>
<line x1="381.2" y1="544.5" x2="385.0" y2="544.5" stroke="#111" stroke-width="1.20" />
<text x="380.6" y="547.8" font-size="9.9" font-weight="bold" text-anchor="end" fill="#111" stroke="#111" stroke-width="0.30" textLength="10.6" lengthAdjust="spacingAndGlyphs" >80</text>
<line x1="381.2" y1="534.3" x2="385.0" y2="534.3" stroke="#111" stroke-width="1.20" />
<text x="380.6" y="537.5" font-size="9.9" font-weight="bold" text-anchor="end" fill="#111" stroke="#111" stroke-width="0.30" textLength="15.9" lengthAdjust="spacingAndGlyphs" >100</text>
<text x="337.8" y="490.0" font-size="10.2" font-weight="bold" text-anchor="middle" fill="#111" stroke="#111" stroke-width="0.30" textLength="148.5" lengthAdjust="spacingAndGlyphs" transform="rotate(-90 337.8 490.0)" >Median Fluorescence Intensity</text>
<text x="487.0" y="400.4" font-size="14.9" font-weight="bold" text-anchor="middle" fill="#111" stroke="#111" stroke-width="0.45" textLength="44.0" lengthAdjust="spacingAndGlyphs" >HER-2</text>
<path d="M393.7,585.4 L393.7,558.2 L429.3,558.2 L429.3,585.4" fill="none" stroke="#0a0a0a" stroke-width="1.50"/>
<path d="M447.1,585.4 L447.1,556.6 L482.9,556.6 L482.9,585.4" fill="none" stroke="#0a0a0a" stroke-width="1.50"/>
<path d="M501.2,525.8 L501.2,466.2 L536.3,466.2 L536.3,525.8 M501.2,533.9 L501.2,585.4 M536.3,533.9 L536.3,585.4" fill="none" stroke="#0a0a0a" stroke-width="1.50"/>
<path d="M555.0,525.8 L555.0,468.3 L589.8,468.3 L589.8,525.8 M555.0,533.9 L555.0,585.4 M589.8,533.9 L589.8,585.4" fill="none" stroke="#0a0a0a" stroke-width="1.50"/>
<path d="M411.9,557.5 L411.9,558.2 M402.6,557.5 L421.2,557.5 M402.6,558.2 L421.2,558.2" fill="none" stroke="#0a0a0a" stroke-width="1.20"/>
<path d="M465.5,555.2 L465.5,556.8 M456.2,555.2 L474.8,555.2 M456.2,556.8 L474.8,556.8" fill="none" stroke="#0a0a0a" stroke-width="1.50"/>
<path d="M518.7,462.5 L518.7,470.8 M509.4,462.5 L528.0,462.5 M509.4,470.8 L528.0,470.8" fill="none" stroke="#0a0a0a" stroke-width="1.50"/>
<path d="M572.4,450.0 L572.4,486.3 M563.1,450.0 L581.7,450.0 M563.1,486.3 L581.7,486.3" fill="none" stroke="#0a0a0a" stroke-width="1.50"/>
<path d="M411.3,543.2 L465.6,543.2 M411.3,539.9 L411.3,546.5 M465.6,539.9 L465.6,546.5" fill="none" stroke="#0a0a0a" stroke-width="1.45"/>
<path d="M518.0,430.6 L572.5,430.6 M518.0,427.3 L518.0,433.9 M572.5,427.3 L572.5,433.9" fill="none" stroke="#0a0a0a" stroke-width="1.45"/>
<text x="438.5" y="537.0" font-size="9.9" font-weight="bold" text-anchor="middle" fill="#111" stroke="#111" stroke-width="0.35" textLength="11.6" lengthAdjust="spacingAndGlyphs" >ns</text>
<text x="545.4" y="423.3" font-size="9.9" font-weight="bold" text-anchor="middle" fill="#111" stroke="#111" stroke-width="0.35" textLength="11.6" lengthAdjust="spacingAndGlyphs" >ns</text>
<line x1="411.7" y1="585.4" x2="411.7" y2="588.8" stroke="#111" stroke-width="1.20" />
<line x1="465.0" y1="585.4" x2="465.0" y2="588.8" stroke="#111" stroke-width="1.20" />
<line x1="519.0" y1="585.4" x2="519.0" y2="588.8" stroke="#111" stroke-width="1.20" />
<line x1="572.4" y1="585.4" x2="572.4" y2="588.8" stroke="#111" stroke-width="1.20" />
<text x="414.8" y="599.0" font-size="10.6" font-weight="bold" text-anchor="end" fill="#111" stroke="#111" stroke-width="0.35" textLength="119.0" lengthAdjust="spacingAndGlyphs" transform="rotate(-45 414.8 599.0)" >BT474 ATCC isotype ctrl</text>
<text x="468.6" y="599.0" font-size="10.6" font-weight="bold" text-anchor="end" fill="#111" stroke="#111" stroke-width="0.35" textLength="119.0" lengthAdjust="spacingAndGlyphs" transform="rotate(-45 468.6 599.0)" >BT474 1986 isotype ctrl</text>
<text x="522.2" y="599.3" font-size="10.6" font-weight="bold" text-anchor="end" fill="#111" stroke="#111" stroke-width="0.35" textLength="92.5" lengthAdjust="spacingAndGlyphs" transform="rotate(-45 522.2 599.3)" >BT474 ATCC HER-2</text>
<text x="575.6" y="599.3" font-size="10.6" font-weight="bold" text-anchor="end" fill="#111" stroke="#111" stroke-width="0.35" textLength="92.5" lengthAdjust="spacingAndGlyphs" transform="rotate(-45 575.6 599.3)" >BT474 1986 HER-2</text>
</svg>
</body></html>
